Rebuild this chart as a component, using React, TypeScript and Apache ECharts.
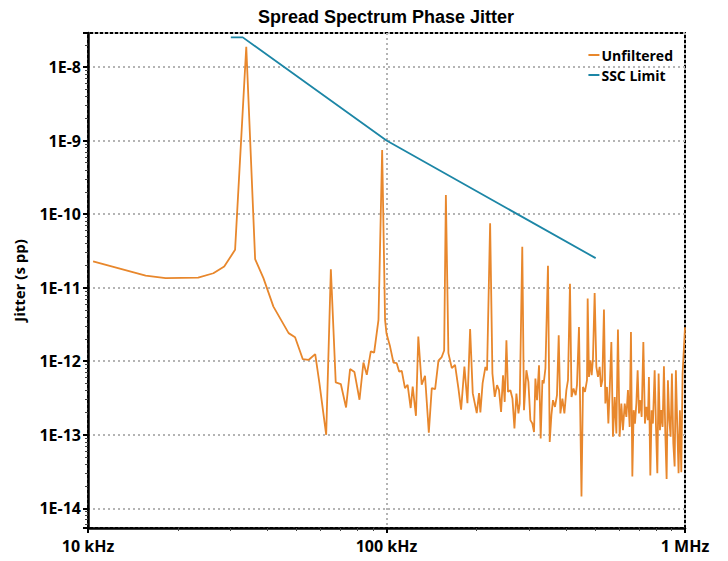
import React, { useEffect, useRef } from 'react';
import * as echarts from 'echarts';

// Frequencies in kHz for the unfiltered jitter trace
const freqKHz = [
  10.4, 15.6, 18.2, 23.4, 26.3, 28.6, 31.1, 33.9, 36.3, 38.7,
  41.8, 47.0, 49.4, 52.4, 54.8, 57.7, 59.6, 62.8, 65.1, 67.6,
  70.3, 73.2, 75.5, 78.1, 81.2, 83.7, 85.9, 88.6, 90.9, 94.0,
  96.7, 98.9, 100.0, 102.8, 105.5, 108.2, 110.2, 112.5, 115.3, 117.7,
  120.5, 122.4, 125.5, 127.8, 131.2, 134.6, 138.6, 141.8, 145.5, 149.3,
  153.1, 156.0, 158.1, 161.2, 165.5, 169.7, 174.1, 177.8, 182.4, 186.7,
  190.6, 194.5, 200.6, 204.2, 206.3, 209.9, 214.5, 217.2, 222.4, 226.4,
  230.5, 234.6, 238.2, 242.0, 245.7, 248.9, 252.2, 255.3, 260.1, 264.2,
  268.3, 272.4, 276.7, 279.4, 285.0, 288.8, 294.2, 298.8, 303.4, 308.1,
  312.0, 315.4, 319.3, 324.3, 328.5, 332.9, 336.2, 340.7, 347.5, 352.2,
  356.8, 361.2, 366.8, 372.5, 377.5, 382.4, 388.4, 394.4, 400.5, 405.5,
  411.8, 416.7, 423.2, 430.3, 434.6, 441.4, 450.0, 455.2, 462.2, 469.5,
  472.0, 476.8, 482.0, 486.8, 491.7, 498.1, 504.7, 511.0, 517.7, 523.0,
  528.6, 535.2, 541.0, 547.8, 553.7, 559.3, 566.6, 573.7, 581.5, 588.9,
  596.2, 604.1, 612.0, 619.6, 628.1, 636.1, 644.0, 652.5, 659.1, 666.2,
  673.0, 679.7, 687.1, 694.0, 701.1, 708.7, 715.8, 725.2, 734.2, 742.0,
  751.2, 757.1, 765.3, 772.9, 780.7, 791.3, 799.5, 807.8, 815.9, 824.3,
  833.1, 841.4, 850.0, 859.1, 867.8, 876.5, 886.0, 894.9, 904.0, 913.8,
  923.1, 932.1, 942.2, 951.6, 961.5, 971.8, 981.5, 1000.0,
];

// Jitter (s pp) for the unfiltered trace
const unfiltered = [
  2.27e-11, 1.46e-11, 1.35e-11, 1.37e-11, 1.57e-11, 1.94e-11, 3.27e-11, 1.89e-8, 2.44e-11, 1.35e-11,
  5.53e-12, 2.41e-12, 2.12e-12, 1.07e-12, 1.04e-12, 1.25e-12, 5.04e-13, 1.0e-13, 1.78e-11, 5.14e-13,
  4.89e-13, 2.35e-13, 7.82e-13, 7.11e-13, 2.99e-13, 9.6e-13, 6.53e-13, 1.36e-12, 1.31e-12, 3.65e-12,
  7.45e-10, 3.65e-12, 2.38e-12, 1.58e-12, 9.6e-13, 9.4e-13, 7.24e-13, 7.4e-13, 4.3e-13, 4.78e-13,
  2.31e-13, 4.53e-13, 1.81e-13, 2.17e-12, 4.78e-13, 6.34e-13, 1.07e-13, 4.3e-13, 4.17e-13, 1.02e-12,
  1.14e-12, 1.4e-12, 1.82e-10, 1.29e-12, 8.05e-13, 8.93e-13, 4.3e-13, 2.19e-13, 8.47e-13, 2.69e-13,
  2.73e-12, 3.68e-13, 1.97e-13, 3.68e-13, 2.01e-13, 5.04e-13, 8.4e-13, 7.5e-13, 7.52e-11, 6.8e-13,
  3.27e-13, 4.72e-13, 4.04e-13, 2.05e-13, 6.45e-13, 2.8e-13, 1.93e-12, 3.83e-13, 4.04e-13, 3.11e-13,
  1.22e-13, 3.64e-13, 1.95e-13, 2.66e-13, 3.61e-11, 2.16e-13, 7.54e-13, 5.23e-13, 1.58e-13, 1.42e-13,
  1.09e-13, 5.82e-13, 2.95e-13, 8.82e-13, 8.9e-14, 5.52e-13, 4.98e-13, 7.96e-13, 1.98e-11, 8.0e-14,
  1.85e-13, 2.95e-13, 2.39e-13, 3.45e-13, 2.26e-12, 1.95e-13, 3.11e-13, 1.95e-13, 4.04e-13, 5.52e-13,
  1.13e-11, 3.27e-13, 4.26e-13, 3.45e-13, 4.72e-13, 2.92e-12, 1.45e-14, 4.47e-13, 3.83e-13, 5.52e-13,
  7.1e-12, 6.12e-13, 1.03e-12, 6.45e-13, 1.09e-12, 8.47e-12, 8.37e-13, 6.12e-13, 8.37e-13, 4.47e-13,
  5.52e-13, 5.04e-12, 2.66e-13, 4.47e-13, 1.42e-13, 4.04e-13, 1.83e-12, 9.4e-14, 3.27e-13, 1.04e-13,
  2.7e-12, 9.4e-14, 2.66e-13, 1.15e-13, 2.66e-13, 1.75e-13, 4.04e-13, 1.28e-13, 2.5e-12, 2.7e-14,
  2.16e-13, 1.42e-13, 2.66e-13, 7.54e-13, 1.95e-13, 2.95e-13, 1.75e-13, 1.83e-12, 1.42e-13, 2.39e-13,
  1.58e-13, 6.12e-13, 2.8e-14, 2.16e-13, 1.42e-13, 7.54e-13, 1.28e-13, 3.0e-14, 6.8e-13, 1.15e-13,
  2.16e-13, 1.28e-13, 8.55e-13, 1.04e-13, 2.5e-14, 5.52e-13, 1.58e-13, 9.4e-14, 6.8e-13, 7.6e-14,
  3.7e-14, 7.54e-13, 1.28e-13, 3.0e-14, 2.16e-13, 3.1e-14, 6.8e-13, 2.9e-12,
];

// SSC limit line
const sscFreqKHz = [30.1, 33.0, 100, 502];
const sscLimit = [2.53e-8, 2.53e-8, 1.0e-9, 2.52e-11];

const xTickLabels = ['10 kHz', '100 kHz', '1 MHz'];
const yMin = 5.4e-15;
const yMax = 2.9e-8;

const LABEL_FONT = '"Open Sans", "Noto Sans", sans-serif';

export default function App() {
  const ref = useRef<HTMLDivElement>(null);

  useEffect(() => {
    if (!ref.current) return;
    const chart = echarts.init(ref.current, null, { renderer: 'svg' });

    const unfData = freqKHz.map((f, i) => [f * 1000, unfiltered[i]]);
    const sscData = sscFreqKHz.map((f, i) => [f * 1000, sscLimit[i]]);

    const dotted = { color: '#b4b4b4', width: 2, type: [2, 3] as any };

    chart.setOption({
      animation: false,
      backgroundColor: '#fff',
      title: {
        text: 'Spread Spectrum Phase Jitter',
        left: 258,
        top: 8,
        padding: 0,
        textStyle: {
          fontFamily: '"Liberation Sans", Arial, sans-serif',
          fontWeight: 'bold',
          fontSize: 18,
          color: '#000',
        },
      },
      legend: {
        orient: 'vertical',
        right: 50,
        top: 43,
        padding: 5,
        itemGap: 6,
        itemWidth: 11,
        itemHeight: 2,
        icon: 'rect',
        textStyle: {
          fontFamily: LABEL_FONT,
          fontWeight: 'bold',
          fontSize: 14,
          color: '#000',
          padding: [0, 0, 0, -3],
        },
        data: ['Unfiltered', 'SSC Limit'],
      },
      grid: {
        left: 88,
        right: 43,
        top: 33,
        bottom: 33,
        show: true,
        borderColor: '#000',
        borderWidth: 2,
        containLabel: false,
      },
      xAxis: {
        type: 'log',
        logBase: 10,
        min: 1e4,
        max: 1e6,
        axisLine: { show: true, lineStyle: { color: '#000', width: 2.5 } },
        axisTick: { show: true, length: 5, lineStyle: { color: '#000', width: 2 } },
        minorTick: { show: true, splitNumber: 9, length: 3, lineStyle: { color: '#444', width: 1 } },
        splitLine: { show: true, lineStyle: dotted },
        minorSplitLine: { show: false },
        axisLabel: {
          margin: 10,
          fontFamily: LABEL_FONT,
          fontWeight: 'bold',
          fontSize: 16,
          color: '#000',
          formatter: (v: number) => {
            const e = Math.round(Math.log10(v));
            return xTickLabels[e - 4] ?? '';
          },
        },
      },
      yAxis: {
        type: 'log',
        logBase: 10,
        min: yMin,
        max: yMax,
        name: 'Jitter (s pp)',
        nameLocation: 'middle',
        nameGap: 62,
        nameTextStyle: {
          fontFamily: LABEL_FONT,
          fontWeight: 'bold',
          fontSize: 15,
          color: '#000',
        },
        axisLine: { show: true, lineStyle: { color: '#000', width: 2.5 } },
        axisTick: { show: true, length: 5, lineStyle: { color: '#000', width: 2 } },
        minorTick: { show: true, splitNumber: 9, length: 3, lineStyle: { color: '#444', width: 1 } },
        splitLine: { show: true, lineStyle: dotted },
        minorSplitLine: { show: false },
        axisLabel: {
          margin: 7,
          showMinLabel: false,
          showMaxLabel: false,
          fontFamily: LABEL_FONT,
          fontWeight: 'bold',
          fontSize: 16,
          color: '#000',
          formatter: (v: number) => {
            const l = Math.log10(v);
            const e = Math.round(l);
            if (Math.abs(l - e) > 0.01) return '';
            return '1E' + e;
          },
        },
      },
      series: [
        {
          name: 'Unfiltered',
          type: 'line',
          data: unfData,
          showSymbol: false,
          symbol: 'none',
          lineStyle: { color: '#E8872C', width: 1.8 },
          itemStyle: { color: '#E8872C' },
        },
        {
          name: 'SSC Limit',
          type: 'line',
          data: sscData,
          showSymbol: false,
          symbol: 'none',
          lineStyle: { color: '#1C86A6', width: 1.8 },
          itemStyle: { color: '#1C86A6' },
        },
      ],
    });

    return () => {
      chart.dispose();
    };
  }, []);

  return (
    <div
      ref={ref}
      style={{ position: 'fixed', left: 0, top: 0, width: 728, height: 561, background: '#fff' }}
    />
  );
}
